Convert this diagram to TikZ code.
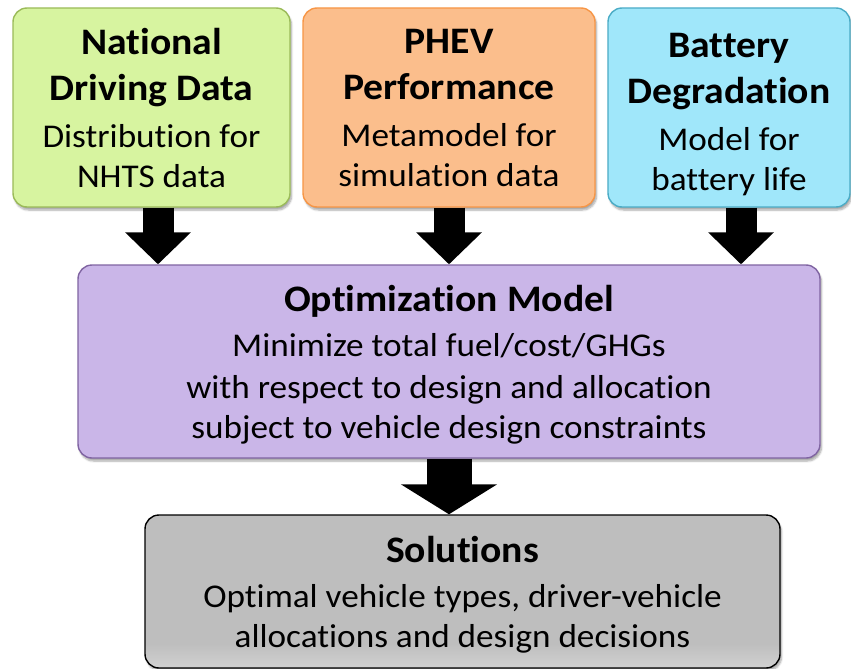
\documentclass[tikz,border=0pt]{standalone}
\usepackage{fontspec}
\setmainfont{Carlito}[FakeStretch=1.06, Ligatures=NoCommon]
\usetikzlibrary{arrows.meta,shadows.blur}

\definecolor{natfill}{RGB}{215,244,160}
\definecolor{natline}{RGB}{155,187,89}
\definecolor{phevfill}{RGB}{251,190,140}
\definecolor{phevline}{RGB}{247,150,70}
\definecolor{batfill}{RGB}{160,231,250}
\definecolor{batline}{RGB}{75,172,198}
\definecolor{optfill}{RGB}{202,182,232}
\definecolor{optline}{RGB}{128,100,162}
\definecolor{soltop}{RGB}{190,190,190}
\definecolor{solbot}{RGB}{240,240,240}

% lighter band along the bottom of the results box
\pgfdeclareverticalshading{solshade}{100bp}{color(0bp)=(solbot); color(12bp)=(solbot); color(33bp)=(soltop); color(100bp)=(soltop)}

\newcommand\hd[1]{{\fontsize{37.4}{46}\selectfont\bfseries #1}}

\tikzset{
  card/.style={draw, line width=1.4pt, rounded corners=14pt, inner sep=0pt, align=center,
    font=\fontsize{33.2}{40}\selectfont, text depth=0pt,
    blur shadow={shadow xshift=1.5pt, shadow yshift=-3pt, shadow blur steps=6, shadow opacity=35}},
  feed/.style={line width=31pt, -{Triangle[width=64pt,length=32pt]}},
  bigfeed/.style={line width=45pt, -{Triangle[width=95pt,length=30pt]}},
}

\begin{document}
\begin{tikzpicture}[x=1pt,y=-1pt]
\useasboundingbox (0,0) rectangle (851,669);

\node[card, fill=natfill, draw=natline, minimum width=277pt, minimum height=199pt] (nat) at (151.5,107.5)
  {\hd{National}\\[6pt]\hd{Driving Data}\\[7pt]Distribution for\\NHTS data};
\node[card, fill=phevfill, draw=phevline, minimum width=292pt, minimum height=199pt] (phev) at (449,107.5)
  {\hd{PHEV}\\[6pt]\hd{Performance}\\[7pt]Metamodel for\\simulation data};
\node[card, fill=batfill, draw=batline, minimum width=242pt, minimum height=199pt] (bat) at (729,107.5)
  {\rule{0pt}{32pt}\hd{Battery}\\[6pt]\hd{Degradation}\\[7pt]Model for\\battery life};

\node[card, fill=optfill, draw=optline, minimum width=742pt, minimum height=193pt] (opt) at (449,361.5)
  {\hd{Optimization Model}\\[5pt]Minimize total fuel/cost/GHGs\\[2pt]with respect to design and allocation\\subject to vehicle design constraints};

\node[card, shading=solshade, draw=black, minimum width=635pt, minimum height=153pt] (sol) at (462.5,591.5)
  {\hd{Solutions}\\[5pt]Optimal vehicle types, driver-vehicle\\allocations and design decisions};

\draw[feed] ([xshift=6.5pt]nat.south) -- ([xshift=6.5pt]nat.south |- opt.north);
\draw[feed] (phev.south) -- (phev.south |- opt.north);
\draw[feed] ([xshift=12pt]bat.south) -- ([xshift=12pt]bat.south |- opt.north);
\draw[bigfeed] (opt.south) -- (opt.south |- sol.north);
\end{tikzpicture}
\end{document}
